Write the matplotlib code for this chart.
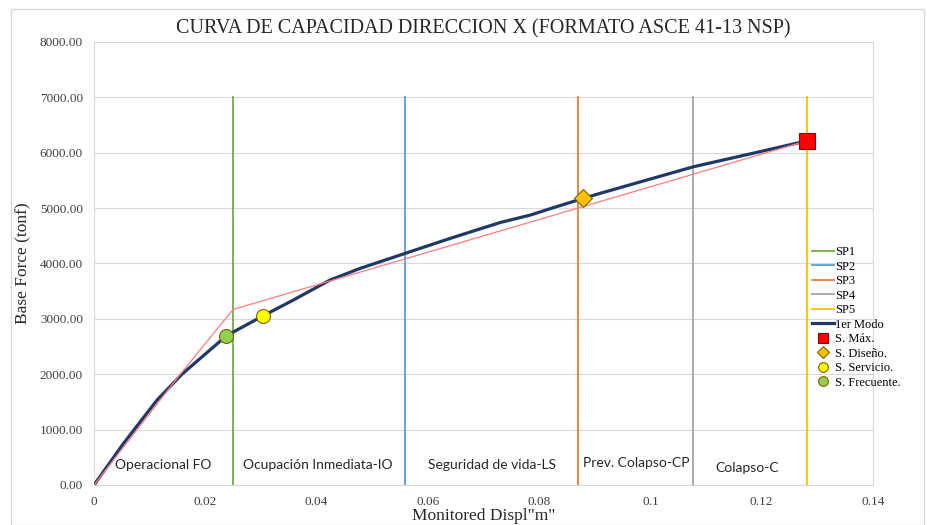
import matplotlib.pyplot as plt
from matplotlib.patches import Rectangle
from matplotlib.ticker import FuncFormatter

# Capacity curve (1er Modo)
disp = [0, 0.0053, 0.0113, 0.0158, 0.0238, 0.0303, 0.0358, 0.0424, 0.0478, 0.0559,
        0.0640, 0.0730, 0.0784, 0.0820, 0.0879, 0.0909, 0.1077, 0.1209, 0.1281]
force = [0, 750, 1530, 2000, 2695, 3050, 3339, 3700, 3911, 4182,
         4453, 4740, 4874, 4990, 5175, 5265, 5746, 6047, 6215]

# idealized (bilinear) curve
bil_disp = [0, 0.0155, 0.0250, 0.1281]
bil_force = [0, 2000, 3170, 6215]

# performance limits
sp_names = ['SP1', 'SP2', 'SP3', 'SP4', 'SP5']
sp_disp = [0.0250, 0.0559, 0.0870, 0.1077, 0.1281]
sp_top = 7000
sp_colors = ['#70AD47', '#5B9BD5', '#ED7D31', '#A5A5A5', '#FFC000']

# performance points
pt_names = ['S. Máx.', 'S. Diseño.', 'S. Servicio.', 'S. Frecuente.']
pt_disp = [0.1281, 0.0879, 0.0303, 0.0238]
pt_force = [6215, 5175, 3050, 2695]
pt_markers = ['s', 'D', 'o', 'o']
pt_colors = ['#FF0000', '#FFC000', '#FFFF00', '#92D050']
pt_sizes = [11, 9, 10, 10]

# zone labels
zones = ['Operacional FO', 'Ocupación Inmediata-IO', 'Seguridad de vida-LS',
         'Prev. Colapso-CP', 'Colapso-C']
zone_x = [0.0124, 0.0403, 0.0716, 0.0974, 0.1174]
zone_y = [370, 370, 370, 390, 300]

serif = 'Liberation Serif'

fig = plt.figure(figsize=(9.27, 5.25), dpi=100)
fig.patches.append(Rectangle((0.012, 0.0), 0.985, 0.983, transform=fig.transFigure,
                             fill=False, edgecolor='#D9D9D9', linewidth=1))
ax = fig.add_axes([0.1014, 0.0762, 0.8403, 0.8438])

for name, x, c in zip(sp_names, sp_disp, sp_colors):
    ax.plot([x, x], [0, sp_top], color=c, linewidth=1.3, label=name)

ax.plot(disp, force, color='#1F3864', linewidth=2.3, label='1er Modo', zorder=4)
ax.plot(bil_disp, bil_force, color='#FF7C80', linewidth=0.9, zorder=5)

for name, x, y, m, c, s in zip(pt_names, pt_disp, pt_force, pt_markers, pt_colors, pt_sizes):
    ax.plot([x], [y], linestyle='none', marker=m, markersize=s, markerfacecolor=c,
            markeredgecolor='#7F6000' if m != 's' else '#8B0000', markeredgewidth=0.8,
            label=name, zorder=6)

for t, x, y in zip(zones, zone_x, zone_y):
    ax.text(x, y, t, ha='center', va='center', fontsize=10, family='Lato', color='#262626')

ax.set_xlim(0, 0.14)
ax.set_ylim(0, 8000)
ax.set_xticks([0, 0.02, 0.04, 0.06, 0.08, 0.1, 0.12, 0.14])
ax.set_yticks(range(0, 8001, 1000))
ax.xaxis.set_major_formatter(FuncFormatter(lambda v, p: '0' if v == 0 else ('%g' % round(v, 2))))
ax.yaxis.set_major_formatter(FuncFormatter(lambda v, p: '%.2f' % v))
ax.tick_params(length=0, labelsize=9.5, colors='#404040', pad=8)
for lab in ax.get_xticklabels() + ax.get_yticklabels():
    lab.set_family(serif)
ax.grid(axis='y', color='#D9D9D9', linewidth=0.8)
ax.set_axisbelow(True)
for s in ax.spines.values():
    s.set_color('#D9D9D9')

ax.set_title('CURVA DE CAPACIDAD DIRECCION X (FORMATO ASCE 41-13 NSP)',
             family=serif, fontsize=14.5, color='#262626', pad=6)
ax.set_xlabel('Monitored Displ"m"', family=serif, fontsize=12.5, color='#262626', labelpad=0)
ax.set_ylabel('Base Force (tonf)', family=serif, fontsize=12.5, color='#262626', labelpad=6)

ax.legend(loc='upper left', bbox_to_anchor=(0.915, 0.55), frameon=False,
          prop={'family': serif, 'size': 9}, handlelength=1.8, handletextpad=0.1,
          labelspacing=0.2, borderaxespad=0, markerscale=0.7)

fig.savefig('out.png', dpi=100)
